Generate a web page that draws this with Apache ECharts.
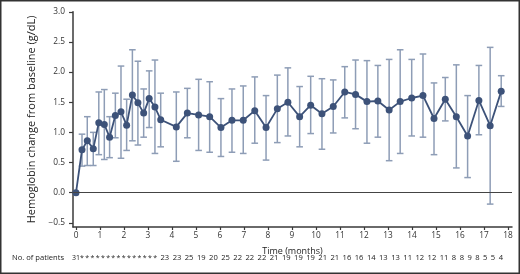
<!DOCTYPE html>
<html>
<head>
<meta charset="utf-8">
<script src="https://cdn.jsdelivr.net/npm/echarts@6/dist/echarts.min.js"></script>
<style>html,body{margin:0;padding:0;background:#fff;}#c{width:520px;height:274px;}</style>
</head>
<body>
<div id="c"></div>
<script>
// Time in months for each visit
const months = [0,0.25,0.47,0.72,0.95,1.18,1.40,1.64,1.875,2.11,2.35,2.58,2.82,3.05,3.29,3.53,4.18,4.64,5.11,5.57,6.04,6.5,6.97,7.45,7.92,8.39,8.83,9.32,9.78,10.25,10.72,11.2,11.65,12.125,12.58,13.05,13.51,13.99,14.46,14.92,15.39,15.85,16.32,16.79,17.26,17.72];
// Mean hemoglobin change from baseline (g/dL)
const means = [0,0.71,0.86,0.73,1.16,1.13,0.92,1.28,1.34,1.12,1.62,1.49,1.32,1.56,1.42,1.21,1.09,1.32,1.29,1.26,1.08,1.20,1.20,1.36,1.08,1.39,1.50,1.26,1.45,1.31,1.43,1.67,1.63,1.51,1.52,1.37,1.51,1.57,1.61,1.23,1.55,1.26,0.94,1.53,1.11,1.68];
// Error bar upper / lower ends
const uppers = [null,0.97,1.26,1.00,1.67,1.71,1.26,1.65,2.10,1.55,2.37,2.18,1.72,2.02,2.20,1.65,1.67,1.73,1.88,1.84,1.56,1.72,1.77,1.92,1.61,1.95,2.07,1.76,1.93,1.89,1.87,2.09,2.20,2.19,2.11,2.21,2.37,2.21,2.30,1.82,1.91,2.12,1.61,2.11,2.41,1.94];
const lowers = [null,0.44,0.45,0.45,0.63,0.55,0.58,0.91,0.57,0.70,0.86,0.79,0.92,1.08,0.65,0.76,0.52,0.91,0.70,0.67,0.60,0.67,0.65,0.82,0.54,0.83,0.94,0.76,0.98,0.72,0.99,1.24,1.06,0.82,0.92,0.53,0.65,0.94,0.92,0.63,1.19,0.41,0.25,0.96,-0.19,1.43];
// Axis ticks
const xTicks = [0,1,2,3,4,5,6,7,8,9,10,11,12,13,14,15,16,17,18];
const yTicks = [-0.5,0,0.5,1.0,1.5,2.0,2.5,3.0];
// Number-of-patients row
const patientsLabel = "No. of patients";
const patientsStar = ["31*","*","*","*","*","*","*","*","*","*","*","*","*","*","*"];
const patientsNums = ["23","23","25","19","20","25","22","22","22","21","19","19","19","21","21","16","16","14","13","13","11","12","12","11","8","8","9","8","5","5","4"];

const FONT = "'Open Sans', 'Noto Sans', sans-serif";
const LINE = '#3d5279';
const BAR = '#8e9db6';
const AX = '#3a3a3a';

const chart = echarts.init(document.getElementById('c'), null, {renderer:'canvas'});

const lineData = months.map((m,i)=>[m, means[i]]);
const barData = [];
months.forEach((m,i)=>{ if(uppers[i]!=null) barData.push([m, lowers[i], uppers[i]]); });

// text layout for patients row
const ctx = document.createElement('canvas').getContext('2d');
const pFont = 7.6;
ctx.font = pFont + "px 'Open Sans'";
function layout(tokens, x0, x1, size){
  const f = size + "px " + FONT;
  ctx.font = size + "px 'Open Sans'";
  const w = tokens.map(t=>ctx.measureText(t).width);
  const total = w.reduce((a,b)=>a+b,0);
  const gap = (x1 - x0 - total)/(tokens.length-1);
  let x = x0; const out=[];
  tokens.forEach((t,i)=>{ out.push({type:'text', left:x, top:254, style:{text:t, font:f, fill:'#222'}}); x += w[i]+gap; });
  return out;
}
const graphics = [
  {type:'rect', shape:{x:0.75,y:0.75,width:518.5,height:272.5}, style:{fill:null, stroke:'#333', lineWidth:1.5}, silent:true},
  {type:'text', left:12, top:254, style:{text:patientsLabel, font:pFont+"px "+FONT, fill:'#222'}}
].concat(layout(patientsStar, 72, 157, 7)).concat(layout(patientsNums, 160.5, 503, pFont));

const fmt = v => (v<0 ? '\u2212' : '') + Math.abs(v).toFixed(1);

chart.setOption({
  animation:false,
  backgroundColor:'#fff',
  grid:{left:73, right:8, top:11.8, bottom:47, containLabel:false},
  xAxis:{
    type:'value', min:-0.125, max:18.17,
    name:'Time (months)', nameLocation:'middle', nameGap:20,
    nameTextStyle:{fontFamily:FONT, fontSize:9, color:'#222'},
    axisLine:{show:true, onZero:false, lineStyle:{color:AX, width:1.5}},
    axisTick:{show:true, length:3, lineStyle:{color:AX, width:1.2}, customValues:xTicks},
    axisLabel:{fontFamily:FONT, fontSize:8.3, color:'#333', margin:5, customValues:xTicks, formatter:v=>String(v)},
    splitLine:{show:false}
  },
  yAxis:{
    type:'value', min:-0.57, max:3.0,
    name:'Hemoglobin change from baseline (g/dL)', nameLocation:'middle', nameGap:24, nameRotate:90,
    nameTextStyle:{fontFamily:FONT, fontSize:11, color:'#222'},
    axisLine:{show:true, onZero:false, lineStyle:{color:AX, width:1.5}},
    axisTick:{show:true, length:4, lineStyle:{color:AX, width:1.2}, customValues:yTicks},
    axisLabel:{fontFamily:FONT, fontSize:8.3, color:'#333', margin:8, customValues:yTicks, formatter:fmt},
    splitLine:{show:false}
  },
  series:[
    {
      type:'custom', z:2,
      data: barData,
      encode:{x:0, y:[1,2]},
      renderItem:(params, api)=>{
        const x = api.value(0);
        const lo = api.coord([x, api.value(1)]);
        const hi = api.coord([x, api.value(2)]);
        const hw = 3.3;
        const st = {stroke:BAR, lineWidth:1.5, fill:null};
        return {type:'group', children:[
          {type:'line', shape:{x1:lo[0],y1:lo[1],x2:hi[0],y2:hi[1]}, style:st},
          {type:'line', shape:{x1:lo[0]-hw,y1:lo[1],x2:lo[0]+hw,y2:lo[1]}, style:st},
          {type:'line', shape:{x1:hi[0]-hw,y1:hi[1],x2:hi[0]+hw,y2:hi[1]}, style:st}
        ]};
      }
    },
    {
      type:'line', z:3,
      data: lineData,
      symbol:'circle', symbolSize:7,
      lineStyle:{color:LINE, width:1.8},
      itemStyle:{color:LINE},
      markLine:{
        silent:true, symbol:['none','none'], label:{show:false},
        lineStyle:{color:'#444', width:1.2, type:'solid'},
        data:[{yAxis:0}]
      }
    }
  ],
  graphic: graphics
});
</script>
</body>
</html>
